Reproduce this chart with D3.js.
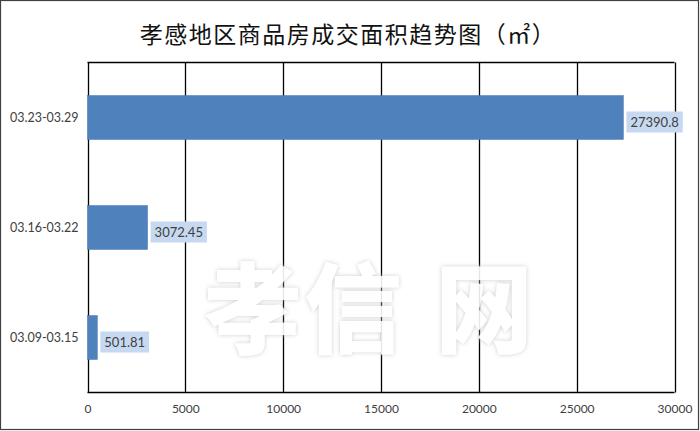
<!DOCTYPE html>
<html><head><meta charset="utf-8">
<script src="https://cdn.jsdelivr.net/npm/d3@7/dist/d3.min.js"></script>
<style>body{margin:0;background:#fff;}svg{display:block;}</style>
</head><body><svg id="c" width="700" height="431"></svg>
<script>
const title = "孝感地区商品房成交面积趋势图（㎡）";
const categories = ["03.23-03.29", "03.16-03.22", "03.09-03.15"];
const values = [27390.8, 3072.45, 501.81];
const valueLabels = ["27390.8", "3072.45", "501.81"];
const xTicks = [0, 5000, 10000, 15000, 20000, 25000, 30000];
const watermarkChars = ["孝", "信", "网"];

const svg = d3.select("#c");
const W = 700, H = 431;
const m = {left: 87.5, right: 674.5, top: 62.5, bottom: 392.5};
const numFont = "Lato, 'Liberation Sans', Arial, sans-serif";

const defs = svg.append("defs");
const f = defs.append("filter").attr("id", "wm").attr("x", "-20%").attr("y", "-20%").attr("width", "140%").attr("height", "140%");
f.append("feGaussianBlur").attr("in", "SourceAlpha").attr("stdDeviation", 2).attr("result", "b");
f.append("feFlood").attr("flood-color", "#c8c8c8").attr("result", "c");
f.append("feComposite").attr("in", "c").attr("in2", "b").attr("operator", "in").attr("result", "s");
const mg = f.append("feMerge");
mg.append("feMergeNode").attr("in", "s");
mg.append("feMergeNode").attr("in", "SourceGraphic");

svg.append("rect").attr("x", 0.5).attr("y", 0.5).attr("width", W - 2).attr("height", H - 2)
  .attr("fill", "#fff").attr("stroke", "#404040").attr("stroke-width", 1.2);

svg.append("text").attr("x", 348).attr("y", 43).attr("text-anchor", "middle")
  .attr("font-family", "'Noto Sans CJK SC', sans-serif").attr("font-size", 23)
  .attr("letter-spacing", 1.5).attr("fill", "#111").text(title);

const x = d3.scaleLinear().domain([0, 30000]).range([m.left, m.right]);
const y = d3.scaleBand().domain(categories).range([m.top, m.bottom]).paddingInner(0.6).paddingOuter(0.3);

// gridlines
const g = svg.append("g");
g.selectAll("line.grid").data(xTicks).join("line")
  .attr("x1", d => Math.round(x(d)) + 0.5).attr("x2", d => Math.round(x(d)) + 0.5)
  .attr("y1", m.top).attr("y2", m.bottom).attr("stroke", "#000").attr("stroke-width", 1.3);
g.append("line").attr("x1", m.left).attr("x2", m.right).attr("y1", m.top).attr("y2", m.top)
  .attr("stroke", "#000").attr("stroke-width", 1.3);
g.append("line").attr("x1", m.left).attr("x2", m.right).attr("y1", m.bottom).attr("y2", m.bottom)
  .attr("stroke", "#000").attr("stroke-width", 1.3);

// x axis labels
const xAxis = d3.axisBottom(x).tickValues(xTicks).tickSize(0).tickPadding(12).tickFormat(d3.format("d"));
const ax = svg.append("g").attr("transform", `translate(0,${m.bottom})`).call(xAxis);
ax.select(".domain").remove();
ax.selectAll("text").attr("font-family", numFont).attr("font-size", 12).attr("fill", "#404040");

// y axis labels
const yAxis = d3.axisLeft(y).tickSize(0).tickPadding(9);
const ay = svg.append("g").attr("transform", `translate(${m.left},0)`).call(yAxis);
ay.select(".domain").remove();
ay.selectAll("text").attr("font-family", numFont).attr("font-size", 12.5).attr("fill", "#404040");

// watermark
const wmX = [253, 353, 484];
svg.append("g").attr("filter", "url(#wm)").attr("opacity", 0.9)
  .selectAll("text").data(watermarkChars).join("text")
  .attr("x", (d, i) => wmX[i]).attr("y", 345).attr("text-anchor", "middle")
  .attr("font-family", "'Noto Sans CJK SC', sans-serif").attr("font-weight", 900)
  .attr("font-size", 98).attr("fill", "#fff").text(d => d);

// bars
const data = categories.map((c, i) => ({c, v: values[i], l: valueLabels[i]}));
svg.selectAll("rect.bar").data(data).join("rect").attr("class", "bar")
  .attr("x", x(0)).attr("y", d => y(d.c)).attr("width", d => x(d.v) - x(0))
  .attr("height", y.bandwidth()).attr("fill", "#4f81bd").attr("stroke", "#4a7ab3").attr("stroke-width", 0.5);

// data labels
const lg = svg.selectAll("g.lab").data(data).join("g").attr("class", "lab");
lg.each(function(d) {
  const gg = d3.select(this);
  const t = gg.append("text").attr("x", x(d.v) + 7).attr("y", y(d.c) + y.bandwidth() / 2 + 9)
    .attr("font-family", numFont).attr("font-size", 13).attr("fill", "#404040").text(d.l);
  const bb = t.node().getBBox();
  gg.insert("rect", "text").attr("x", x(d.v) + 3).attr("y", y(d.c) + y.bandwidth() / 2 - 6)
    .attr("width", bb.width + 8).attr("height", 21).attr("fill", "#c6d9f1");
});
</script></body></html>
